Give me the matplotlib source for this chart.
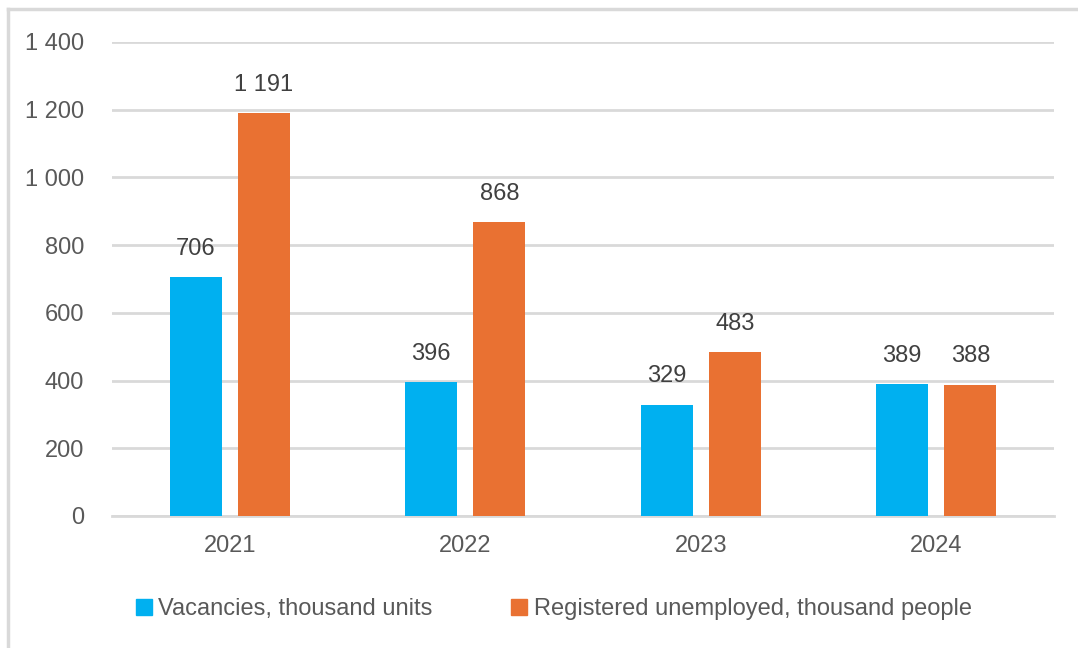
import numpy as np
import matplotlib.pyplot as plt
from matplotlib.lines import Line2D
from matplotlib.ticker import FuncFormatter

years = ["2021", "2022", "2023", "2024"]
vacancies = [706, 396, 329, 389]
unemployed = [1191, 868, 483, 388]
series_names = ["Vacancies, thousand units", "Registered unemployed, thousand people"]

blue = "#00B0F0"
orange = "#E97132"
grid_col = "#D9D9D9"
text_col = "#595959"

plt.rcParams['font.family'] = ['Liberation Sans', 'DejaVu Sans']

def space_thousands(v, pos=None):
    return f"{int(round(v)):,}".replace(",", " ")

fig = plt.figure(figsize=(10.78, 6.48), dpi=100)
ax = fig.add_axes([112 / 1078, 1 - 516 / 648, 942 / 1078, 474 / 648])

x = np.arange(len(years))
w = 0.22
off = 0.145
b1 = ax.bar(x - off, vacancies, w, color=blue, label=series_names[0], zorder=3)
b2 = ax.bar(x + off, unemployed, w, color=orange, label=series_names[1], zorder=3)

for bars, vals in [(b1, vacancies), (b2, unemployed)]:
    for rect, v in zip(bars, vals):
        ax.annotate(space_thousands(v), (rect.get_x() + rect.get_width() / 2, v),
                    xytext=(0, 16), textcoords="offset points",
                    ha="center", va="baseline", fontsize=17, color="#404040")

ax.set_xlim(-0.5, 3.5)
ax.set_ylim(0, 1400)
ax.set_yticks(range(0, 1401, 200))
ax.yaxis.set_major_formatter(FuncFormatter(space_thousands))
ax.set_xticks(x)
ax.set_xticklabels(years)
ax.tick_params(axis="both", length=0, labelsize=17, labelcolor=text_col)
ax.tick_params(axis="y", pad=20)
ax.tick_params(axis="x", pad=14)
ax.grid(axis="y", color=grid_col, linewidth=2, zorder=0)
for s in ["top", "right", "left"]:
    ax.spines[s].set_visible(False)
ax.spines["bottom"].set_color(grid_col)
ax.spines["bottom"].set_linewidth(2)

handles = [Line2D([], [], marker="s", linestyle="none", markersize=11, color=blue),
           Line2D([], [], marker="s", linestyle="none", markersize=11, color=orange)]
fig.legend(handles, series_names, loc="center", bbox_to_anchor=(554 / 1078, 1 - 609 / 648),
           ncol=2, frameon=False, fontsize=17, labelcolor=text_col,
           handlelength=0.6, handletextpad=0.3, columnspacing=3.4)

# outer chart border (top and left visible)
fig.add_artist(Line2D([8 / 1078, 1], [1 - 9 / 648, 1 - 9 / 648], color=grid_col, linewidth=2.5,
                      transform=fig.transFigure))
fig.add_artist(Line2D([8 / 1078, 8 / 1078], [0, 1 - 9 / 648], color=grid_col, linewidth=2.5,
                      transform=fig.transFigure))

fig.savefig("out.png", dpi=100)
